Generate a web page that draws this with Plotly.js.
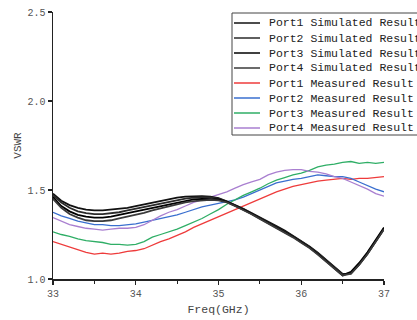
<!DOCTYPE html>
<html>
<head>
<meta charset="utf-8">
<script src="https://cdn.plot.ly/plotly-3.0.1.min.js"></script>
<style>html,body{margin:0;padding:0;background:#fff;}#chart{width:417px;height:320px;}</style>
</head>
<body>
<div id="chart"></div>
<script>
var freq = [33.0,33.1,33.2,33.3,33.4,33.5,33.6,33.7,33.8,33.9,34.0,34.1,34.2,34.3,34.4,34.5,34.6,34.7,34.8,34.9,35.0,35.1,35.2,35.3,35.4,35.5,35.6,35.7,35.8,35.9,36.0,36.1,36.2,36.3,36.4,36.5,36.6,36.7,36.8,36.9,37.0];

var sim1 = [1.48,1.44,1.415,1.40,1.39,1.385,1.385,1.39,1.395,1.40,1.41,1.42,1.43,1.44,1.45,1.457,1.463,1.466,1.466,1.462,1.455,1.437,1.417,1.395,1.37,1.347,1.322,1.297,1.272,1.243,1.213,1.183,1.148,1.108,1.068,1.028,1.03,1.08,1.14,1.21,1.28];
var sim2 = [1.47,1.43,1.40,1.38,1.37,1.365,1.365,1.37,1.375,1.385,1.395,1.405,1.415,1.425,1.435,1.445,1.452,1.457,1.46,1.458,1.452,1.435,1.415,1.393,1.368,1.343,1.318,1.293,1.268,1.24,1.21,1.18,1.145,1.105,1.065,1.025,1.035,1.085,1.145,1.215,1.285];
var sim3 = [1.46,1.41,1.38,1.36,1.35,1.345,1.345,1.35,1.36,1.37,1.38,1.39,1.40,1.41,1.42,1.43,1.44,1.447,1.45,1.45,1.447,1.433,1.413,1.39,1.366,1.34,1.315,1.29,1.265,1.237,1.207,1.177,1.14,1.10,1.06,1.02,1.04,1.09,1.15,1.22,1.29];
var sim4 = [1.45,1.40,1.365,1.345,1.33,1.325,1.325,1.33,1.34,1.35,1.36,1.372,1.385,1.397,1.41,1.42,1.43,1.437,1.442,1.444,1.442,1.43,1.41,1.388,1.364,1.338,1.312,1.287,1.262,1.234,1.204,1.174,1.137,1.097,1.057,1.02,1.03,1.08,1.14,1.21,1.28];

var meas1 = [1.21,1.195,1.18,1.165,1.15,1.14,1.145,1.14,1.145,1.155,1.16,1.17,1.19,1.21,1.225,1.245,1.265,1.29,1.31,1.33,1.35,1.37,1.39,1.41,1.43,1.45,1.47,1.49,1.505,1.52,1.53,1.54,1.55,1.555,1.56,1.565,1.56,1.565,1.565,1.57,1.575];
var meas2 = [1.375,1.355,1.34,1.325,1.315,1.305,1.305,1.30,1.30,1.305,1.31,1.32,1.33,1.34,1.35,1.36,1.375,1.39,1.405,1.415,1.425,1.435,1.445,1.46,1.48,1.50,1.52,1.54,1.55,1.56,1.565,1.575,1.585,1.58,1.575,1.575,1.565,1.545,1.525,1.505,1.49];
var meas3 = [1.265,1.25,1.24,1.225,1.215,1.21,1.205,1.195,1.195,1.19,1.195,1.21,1.235,1.25,1.265,1.28,1.30,1.32,1.34,1.365,1.39,1.42,1.445,1.47,1.49,1.51,1.535,1.555,1.57,1.585,1.595,1.61,1.63,1.64,1.645,1.655,1.66,1.65,1.655,1.65,1.655];
var meas4 = [1.345,1.325,1.305,1.295,1.285,1.28,1.275,1.28,1.285,1.285,1.29,1.305,1.33,1.355,1.375,1.39,1.41,1.43,1.445,1.46,1.475,1.49,1.51,1.53,1.545,1.56,1.585,1.60,1.61,1.615,1.615,1.605,1.60,1.59,1.575,1.565,1.545,1.525,1.505,1.48,1.465];

var seriesNames = ['Port1 Simulated Result','Port2 Simulated Result','Port3 Simulated Result','Port4 Simulated Result','Port1 Measured Result','Port2 Measured Result','Port3 Measured Result','Port4 Measured Result'];
var seriesData = [sim1, sim2, sim3, sim4, meas1, meas2, meas3, meas4];
var seriesColors = ['#111111','#2a2a2a','#000000','#3a3a3a','#ee3b3b','#3a6fcf','#2fae66','#a97fd0'];
var seriesWidths = [1.8,1.8,1.8,1.8,1.3,1.3,1.3,1.3];

var traces = [];
// draw measured first, simulated on top
var order = [4,5,6,7,0,1,2,3];
order.forEach(function(i){
  traces.push({
    x: freq, y: seriesData[i], name: seriesNames[i], type: 'scatter', mode: 'lines',
    line: {color: seriesColors[i], width: seriesWidths[i]}, showlegend: false
  });
});

var W = 417, H = 320, ml = 53, mr = 33, mt = 12, mb = 41;
var pw = W - ml - mr, ph = H - mt - mb;
function px2x(p){ return (p - ml) / pw; }
function py2y(p){ return (H - mb - p) / ph; }

var shapes = [{
  type: 'rect', xref: 'paper', yref: 'paper',
  x0: px2x(232), x1: px2x(440), y0: py2y(135), y1: py2y(13),
  line: {color: '#444', width: 1}, fillcolor: 'rgba(255,255,255,0)', layer: 'above'
}];
var annotations = [];
for (var i = 0; i < seriesNames.length; i++) {
  var cy = 23 + 15 * i;
  shapes.push({
    type: 'line', xref: 'paper', yref: 'paper',
    x0: px2x(234), x1: px2x(260), y0: py2y(cy), y1: py2y(cy),
    line: {color: seriesColors[i], width: 1.5}, layer: 'above'
  });
  annotations.push({
    xref: 'paper', yref: 'paper', x: px2x(267), y: py2y(cy),
    xanchor: 'left', yanchor: 'middle', showarrow: false,
    text: seriesNames[i], font: {family: 'Liberation Mono', size: 11.5, color: '#222'}
  });
}

var layout = {
  width: W, height: H,
  margin: {l: ml, r: mr, t: mt, b: mb},
  paper_bgcolor: '#fff', plot_bgcolor: '#fff',
  showlegend: false,
  xaxis: {
    range: [33, 37], dtick: 1, tick0: 33,
    showgrid: false, zeroline: false,
    showline: true, linecolor: '#222', linewidth: 1.5,
    ticks: 'outside', ticklen: 4, tickcolor: '#222', tickwidth: 1.2,
    minor: {dtick: 0.5, ticks: 'outside', ticklen: 3, tickcolor: '#222', showgrid: false},
    tickfont: {family: 'Liberation Mono', size: 10, color: '#555'},
    title: {text: 'Freq(GHz)', font: {family: 'Liberation Mono', size: 11.5, color: '#444'}, standoff: 6}
  },
  yaxis: {
    range: [1, 2.5], dtick: 0.5, tick0: 1, tickformat: '.1f',
    showgrid: false, zeroline: false,
    showline: true, linecolor: '#222', linewidth: 1.5,
    ticks: 'outside', ticklen: 4, tickcolor: '#222', tickwidth: 1.2,
    tickfont: {family: 'Liberation Mono', size: 10, color: '#555'},
    title: {text: 'VSWR', font: {family: 'Liberation Mono', size: 11, color: '#444'}, standoff: 3}
  },
  shapes: shapes,
  annotations: annotations
};

Plotly.newPlot('chart', traces, layout, {displayModeBar: false, staticPlot: true});
</script>
</body>
</html>
